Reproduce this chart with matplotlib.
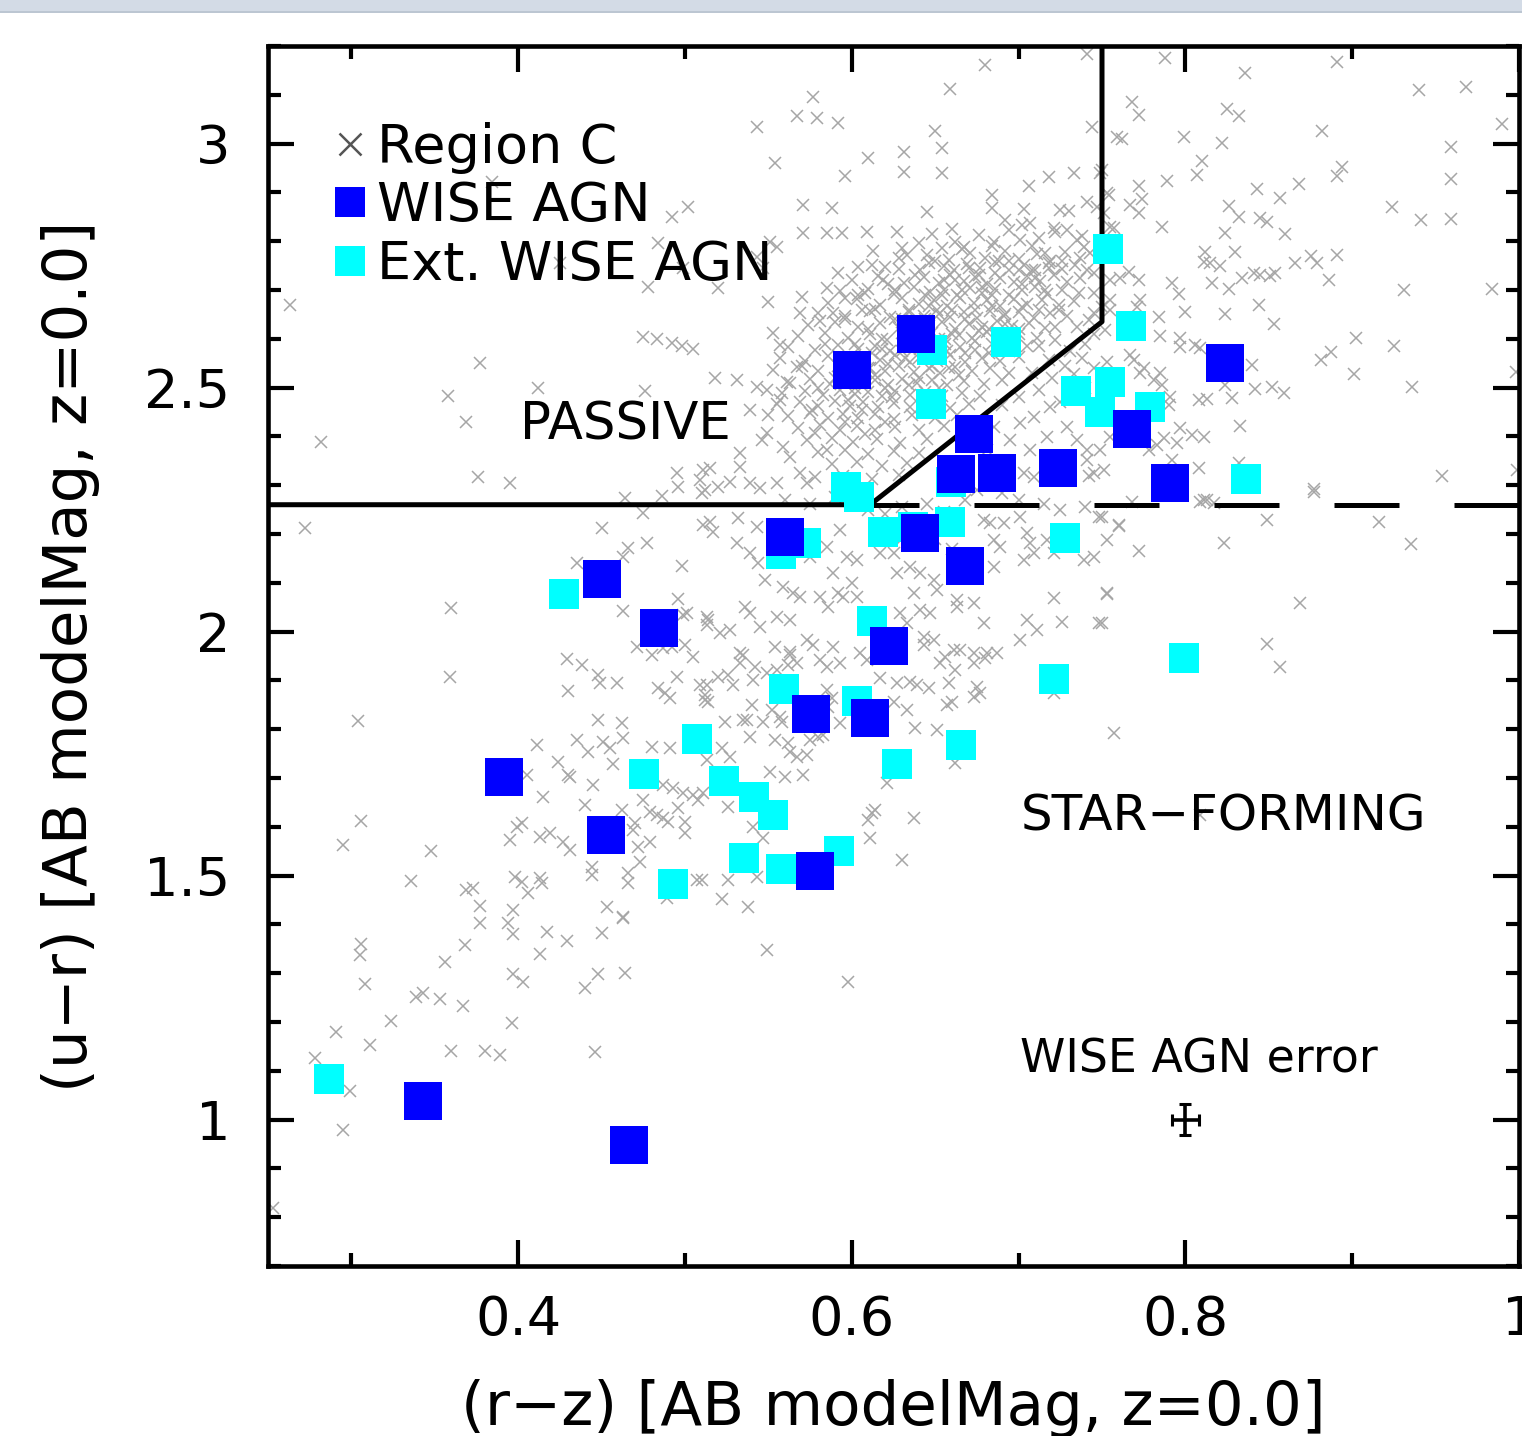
import numpy as np
import matplotlib
matplotlib.use("Agg")
import matplotlib.pyplot as plt
from matplotlib.lines import Line2D
from matplotlib.patches import Rectangle
from matplotlib.ticker import MultipleLocator, FuncFormatter

plt.rcParams['font.family'] = ['DejaVu Sans']

# ---------------- data ----------------
wise_agn_x = [0.6386, 0.6002, 0.8239, 0.6734, 0.7681, 0.6626, 0.6872, 0.7238, 0.7909, 0.5600, 0.6410,
              0.6680, 0.4503, 0.4845, 0.6224, 0.5756, 0.6110, 0.3915, 0.4527, 0.5780, 0.3430, 0.4665]
wise_agn_y = [2.610, 2.536, 2.550, 2.405, 2.415, 2.323, 2.325, 2.335, 2.305, 2.194, 2.202,
              2.134, 2.108, 2.007, 1.970, 1.831, 1.823, 1.702, 1.583, 1.509, 1.038, 0.948]

ext_agn_x = [0.7537, 0.7675, 0.6926, 0.6482, 0.7346, 0.7549, 0.7490, 0.7789, 0.6476, 0.8365, 0.5966,
             0.6044, 0.6596, 0.6188, 0.6368, 0.6590, 0.7280, 0.5726, 0.5576, 0.4275, 0.6122, 0.5594,
             0.6032, 0.7214, 0.7993, 0.5073, 0.6656, 0.4755, 0.6272, 0.5235, 0.5415, 0.5528, 0.5355,
             0.5576, 0.5924, 0.4929, 0.2866]
ext_agn_y = [2.784, 2.626, 2.593, 2.577, 2.493, 2.511, 2.450, 2.460, 2.466, 2.313, 2.296,
             2.276, 2.307, 2.204, 2.214, 2.225, 2.192, 2.182, 2.159, 2.077, 2.022, 1.882,
             1.858, 1.903, 1.946, 1.780, 1.768, 1.708, 1.729, 1.694, 1.661, 1.624, 1.536,
             1.514, 1.550, 1.483, 1.083]

# Region C galaxies (grey crosses)
region_c_upper_left = [
    (0.263, 2.669), (0.384, 2.921), (0.492, 2.850), (0.502, 2.870), (0.484, 2.796), (0.425, 2.755),
    (0.499, 2.745), (0.478, 2.706), (0.377, 2.550), (0.412, 2.499), (0.476, 2.493), (0.358, 2.483),
    (0.369, 2.430), (0.282, 2.389), (0.376, 2.317), (0.395, 2.305), (0.475, 2.604), (0.483, 2.600),
    (0.492, 2.591), (0.498, 2.585), (0.505, 2.579), (0.464, 2.274), (0.486, 2.278), (0.495, 2.325),
    (0.496, 2.296), (0.509, 2.311), (0.511, 2.331), (0.510, 2.284)]

region_c_upper_mid = [
    (0.741, 3.184), (0.680, 3.161), (0.659, 3.112), (0.577, 3.096), (0.567, 3.057), (0.579, 3.052),
    (0.592, 3.042), (0.543, 3.033), (0.650, 3.026), (0.744, 3.034), (0.654, 2.991), (0.631, 2.983),
    (0.610, 2.970), (0.554, 2.960), (0.631, 2.942), (0.654, 2.940), (0.596, 2.934), (0.733, 2.940),
    (0.718, 2.932), (0.706, 2.914), (0.684, 2.895), (0.749, 2.940), (0.754, 2.895), (0.571, 2.874),
    (0.588, 2.868), (0.645, 2.860), (0.684, 2.868), (0.703, 2.866), (0.692, 2.843), (0.725, 2.864),
    (0.730, 2.862), (0.741, 2.880), (0.747, 2.870), (0.571, 2.817), (0.585, 2.817), (0.594, 2.817),
    (0.609, 2.819), (0.627, 2.819), (0.648, 2.815), (0.551, 2.798), (0.555, 2.788), (0.543, 2.768),
    (0.547, 2.745), (0.520, 2.704), (0.613, 2.780), (0.630, 2.786), (0.633, 2.772), (0.640, 2.796),
    (0.654, 2.786), (0.662, 2.798), (0.667, 2.788), (0.685, 2.798), (0.702, 2.833), (0.707, 2.837),
    (0.701, 2.802), (0.641, 2.741), (0.655, 2.749), (0.620, 2.747), (0.604, 2.747), (0.592, 2.735),
    (0.585, 2.704), (0.570, 2.686), (0.550, 2.676), (0.569, 2.653), (0.581, 2.637), (0.589, 2.653),
    (0.553, 2.612), (0.557, 2.587), (0.596, 2.684), (0.608, 2.694), (0.619, 2.720), (0.721, 2.827),
    (0.729, 2.823), (0.735, 2.802), (0.739, 2.788), (0.743, 2.776), (0.745, 2.735), (0.745, 2.694),
    (0.745, 2.653), (0.755, 2.720), (0.755, 2.680), (0.759, 3.014)]

region_c_blob = [
    (0.660, 2.826), (0.676, 2.812), (0.694, 2.822), (0.712, 2.806), (0.722, 2.818), (0.738, 2.810),
    (0.628, 2.766), (0.645, 2.772), (0.658, 2.762), (0.671, 2.776), (0.680, 2.766), (0.692, 2.780),
    (0.700, 2.764), (0.711, 2.774), (0.719, 2.760), (0.728, 2.777), (0.737, 2.765),
    (0.612, 2.752), (0.628, 2.744), (0.646, 2.756), (0.661, 2.741), (0.669, 2.753), (0.677, 2.745),
    (0.686, 2.757), (0.694, 2.742), (0.703, 2.751), (0.710, 2.740), (0.718, 2.755), (0.726, 2.744),
    (0.734, 2.752), (0.741, 2.742),
    (0.600, 2.720), (0.616, 2.728), (0.631, 2.715), (0.643, 2.726), (0.652, 2.714), (0.659, 2.731),
    (0.667, 2.719), (0.674, 2.727), (0.681, 2.713), (0.689, 2.725), (0.697, 2.716), (0.705, 2.729),
    (0.713, 2.718), (0.721, 2.730), (0.729, 2.716), (0.737, 2.724),
    (0.593, 2.697), (0.610, 2.703), (0.625, 2.692), (0.637, 2.706), (0.647, 2.695), (0.655, 2.701),
    (0.663, 2.690), (0.671, 2.705), (0.678, 2.694), (0.686, 2.702), (0.694, 2.690), (0.702, 2.699),
    (0.710, 2.706), (0.717, 2.692), (0.726, 2.701), (0.736, 2.694),
    (0.586, 2.674), (0.603, 2.681), (0.617, 2.670), (0.630, 2.683), (0.640, 2.672), (0.649, 2.680),
    (0.657, 2.668), (0.665, 2.684), (0.673, 2.673), (0.681, 2.679), (0.689, 2.668), (0.697, 2.682),
    (0.705, 2.671), (0.714, 2.680), (0.724, 2.670), (0.733, 2.678),
    (0.580, 2.652), (0.596, 2.646), (0.611, 2.657), (0.623, 2.644), (0.634, 2.655), (0.643, 2.647),
    (0.651, 2.659), (0.659, 2.645), (0.667, 2.654), (0.675, 2.642), (0.683, 2.656), (0.691, 2.646),
    (0.700, 2.654), (0.709, 2.643), (0.719, 2.652), (0.729, 2.646),
    (0.574, 2.628), (0.590, 2.635), (0.604, 2.624), (0.617, 2.633), (0.628, 2.622), (0.637, 2.636),
    (0.646, 2.626), (0.654, 2.634), (0.662, 2.621), (0.670, 2.631), (0.678, 2.624), (0.687, 2.636),
    (0.696, 2.627), (0.706, 2.633), (0.716, 2.622),
    (0.568, 2.606), (0.584, 2.612), (0.598, 2.601), (0.611, 2.609), (0.621, 2.598), (0.630, 2.612),
    (0.640, 2.603), (0.648, 2.611), (0.656, 2.599), (0.664, 2.608), (0.672, 2.602), (0.681, 2.613),
    (0.690, 2.600), (0.700, 2.609), (0.711, 2.601),
    (0.562, 2.583), (0.578, 2.577), (0.592, 2.588), (0.604, 2.579), (0.614, 2.586), (0.623, 2.575),
    (0.632, 2.589), (0.641, 2.580), (0.649, 2.587), (0.657, 2.574), (0.665, 2.584), (0.674, 2.578),
    (0.684, 2.589), (0.694, 2.576), (0.705, 2.585),
    (0.557, 2.561), (0.572, 2.555), (0.586, 2.565), (0.598, 2.553), (0.608, 2.563), (0.617, 2.556),
    (0.626, 2.566), (0.635, 2.552), (0.643, 2.562), (0.651, 2.555), (0.659, 2.566), (0.668, 2.553),
    (0.678, 2.561), (0.689, 2.555), (0.700, 2.563),
    (0.553, 2.536), (0.567, 2.542), (0.580, 2.533), (0.592, 2.544), (0.602, 2.531), (0.611, 2.540),
    (0.620, 2.534), (0.628, 2.545), (0.637, 2.532), (0.646, 2.541), (0.653, 2.530), (0.662, 2.543),
    (0.672, 2.534), (0.683, 2.540), (0.694, 2.530),
    (0.561, 2.512), (0.575, 2.518), (0.587, 2.508), (0.597, 2.519), (0.606, 2.510), (0.614, 2.516),
    (0.622, 2.506), (0.630, 2.517), (0.639, 2.509), (0.648, 2.515), (0.657, 2.505), (0.667, 2.514),
    (0.679, 2.507), (0.690, 2.515),
    (0.558, 2.488), (0.572, 2.494), (0.583, 2.484), (0.593, 2.495), (0.602, 2.486), (0.610, 2.492),
    (0.618, 2.482), (0.626, 2.493), (0.635, 2.485), (0.644, 2.491), (0.654, 2.483), (0.666, 2.489),
    (0.677, 2.482),
    (0.555, 2.466), (0.569, 2.471), (0.580, 2.462), (0.590, 2.472), (0.599, 2.463), (0.607, 2.470),
    (0.616, 2.461), (0.625, 2.469), (0.635, 2.460), (0.647, 2.468), (0.659, 2.459), (0.670, 2.467),
    (0.562, 2.441), (0.575, 2.447), (0.586, 2.437), (0.595, 2.446), (0.604, 2.438), (0.614, 2.445),
    (0.625, 2.436), (0.636, 2.443), (0.650, 2.438), (0.663, 2.444),
    (0.568, 2.418), (0.581, 2.423), (0.593, 2.414), (0.603, 2.422), (0.614, 2.413), (0.626, 2.420),
    (0.640, 2.414), (0.655, 2.421),
    (0.573, 2.392), (0.588, 2.397), (0.601, 2.388), (0.615, 2.395), (0.629, 2.387), (0.645, 2.394),
    (0.580, 2.368), (0.596, 2.373), (0.610, 2.364), (0.625, 2.371), (0.640, 2.366),
    (0.588, 2.343), (0.603, 2.348), (0.618, 2.339), (0.633, 2.346),
    (0.595, 2.318), (0.612, 2.312), (0.628, 2.321),
    (0.626, 2.700), (0.634, 2.660), (0.642, 2.620), (0.650, 2.580), (0.658, 2.540), (0.666, 2.700),
    (0.674, 2.660), (0.682, 2.620), (0.690, 2.580), (0.644, 2.690), (0.652, 2.650), (0.660, 2.610),
    (0.668, 2.570), (0.676, 2.730), (0.684, 2.690), (0.692, 2.650), (0.700, 2.620), (0.708, 2.740),
    (0.716, 2.700), (0.724, 2.660), (0.632, 2.560), (0.640, 2.520), (0.618, 2.580), (0.610, 2.540),
    (0.602, 2.500), (0.620, 2.500), (0.636, 2.600), (0.655, 2.720), (0.688, 2.760), (0.700, 2.740),
    (0.712, 2.585), (0.722, 2.598), (0.731, 2.574), (0.740, 2.590), (0.718, 2.556), (0.728, 2.545),
    (0.738, 2.560), (0.708, 2.530), (0.720, 2.520), (0.733, 2.528), (0.745, 2.610), (0.712, 2.495),
    (0.700, 2.480), (0.690, 2.465), (0.725, 2.470), (0.740, 2.500), (0.745, 2.540), (0.735, 2.625),
    (0.742, 2.638), (0.722, 2.625)]

region_c_core_extra = [
    (0.604, 2.690), (0.614, 2.662), (0.622, 2.712), (0.630, 2.640), (0.638, 2.730), (0.646, 2.668),
    (0.654, 2.690), (0.662, 2.720), (0.670, 2.745), (0.678, 2.706), (0.686, 2.735), (0.694, 2.760),
    (0.702, 2.712), (0.710, 2.725), (0.718, 2.745), (0.726, 2.760), (0.610, 2.620), (0.618, 2.600),
    (0.626, 2.640), (0.634, 2.620), (0.644, 2.640), (0.652, 2.600), (0.660, 2.660), (0.668, 2.640),
    (0.676, 2.615), (0.684, 2.668), (0.692, 2.630), (0.702, 2.665), (0.712, 2.660), (0.594, 2.560),
    (0.602, 2.590), (0.612, 2.570), (0.622, 2.548), (0.630, 2.575), (0.640, 2.560), (0.648, 2.545),
    (0.656, 2.590), (0.664, 2.525), (0.674, 2.595), (0.682, 2.570), (0.590, 2.520), (0.598, 2.475),
    (0.606, 2.455), (0.614, 2.525), (0.624, 2.480), (0.634, 2.505), (0.644, 2.475), (0.652, 2.500),
    (0.580, 2.500), (0.576, 2.455), (0.596, 2.430), (0.608, 2.405), (0.620, 2.430), (0.570, 2.545),
    (0.584, 2.590), (0.596, 2.640), (0.606, 2.660), (0.650, 2.760), (0.666, 2.785), (0.684, 2.790),
    (0.708, 2.790), (0.716, 2.775)]

region_c_mid = [
    (0.518, 2.520), (0.531, 2.516), (0.543, 2.501), (0.549, 2.495), (0.539, 2.454), (0.550, 2.444),
    (0.557, 2.475), (0.563, 2.509), (0.515, 2.335), (0.512, 2.290), (0.520, 2.296), (0.527, 2.307),
    (0.533, 2.337), (0.539, 2.305), (0.545, 2.294), (0.555, 2.305), (0.569, 2.325), (0.573, 2.305),
    (0.578, 2.317), (0.546, 2.393), (0.559, 2.378), (0.563, 2.358), (0.533, 2.366), (0.549, 2.407),
    (0.578, 2.407), (0.585, 2.372), (0.515, 2.225), (0.517, 2.204), (0.532, 2.233), (0.531, 2.182),
    (0.543, 2.214), (0.544, 2.141), (0.539, 2.161), (0.548, 2.106), (0.559, 2.092), (0.565, 2.079),
    (0.575, 2.153), (0.585, 2.173), (0.593, 2.208), (0.597, 2.153), (0.603, 2.147), (0.589, 2.120),
    (0.600, 2.100), (0.592, 2.079), (0.595, 2.071), (0.581, 2.071), (0.586, 2.050), (0.569, 2.071),
    (0.514, 2.024), (0.521, 1.997), (0.527, 2.003), (0.536, 2.050), (0.539, 2.038), (0.545, 2.009),
    (0.555, 2.030), (0.563, 2.024), (0.554, 1.968), (0.563, 1.958), (0.573, 1.983), (0.577, 1.973),
    (0.533, 1.956), (0.603, 2.071), (0.617, 2.161), (0.625, 2.161), (0.627, 2.120), (0.635, 2.133),
    (0.641, 2.120), (0.637, 2.079), (0.649, 2.106), (0.651, 2.085), (0.629, 2.038), (0.633, 2.018),
    (0.641, 2.044), (0.647, 2.038), (0.663, 2.065), (0.663, 2.050), (0.673, 2.059), (0.679, 2.018),
    (0.643, 1.989), (0.679, 2.229), (0.683, 2.223), (0.691, 2.223), (0.701, 2.235), (0.685, 2.188),
    (0.689, 2.173), (0.705, 2.202), (0.707, 2.182), (0.717, 2.188), (0.703, 2.147), (0.709, 2.161),
    (0.721, 2.161), (0.685, 2.133), (0.739, 2.147), (0.745, 2.153), (0.725, 2.249), (0.753, 2.188),
    (0.753, 2.079), (0.721, 2.069), (0.726, 2.020), (0.748, 2.018), (0.705, 2.024), (0.711, 2.003),
    (0.701, 1.983), (0.687, 1.956), (0.649, 1.983), (0.661, 1.962), (0.673, 1.956),
    (0.695, 2.393), (0.701, 2.428), (0.709, 2.440), (0.719, 2.460), (0.729, 2.419), (0.735, 2.393),
    (0.741, 2.372), (0.745, 2.325), (0.707, 2.372), (0.717, 2.399), (0.751, 2.331), (0.685, 2.419),
    (0.681, 2.372), (0.693, 2.337), (0.703, 2.325), (0.709, 2.317), (0.741, 2.352), (0.749, 2.372),
    (0.560, 2.270), (0.575, 2.262), (0.590, 2.275), (0.610, 2.250), (0.620, 2.240), (0.630, 2.255),
    (0.645, 2.262), (0.655, 2.245), (0.668, 2.270), (0.675, 2.290), (0.690, 2.285), (0.700, 2.270),
    (0.715, 2.262), (0.740, 2.255), (0.650, 2.190), (0.630, 2.190), (0.660, 2.170), (0.675, 2.160),
    (0.748, 2.235), (0.760, 2.218), (0.742, 2.318)]

region_c_right = [
    (0.788, 3.175), (0.891, 3.167), (0.836, 3.145), (0.940, 3.110), (0.968, 3.116), (0.768, 3.085),
    (0.772, 3.059), (0.825, 3.071), (0.832, 3.057), (0.990, 3.040), (0.762, 3.010), (0.799, 3.014),
    (0.822, 3.002), (0.882, 3.026), (0.959, 2.993), (0.810, 2.964), (0.807, 2.936), (0.894, 2.952),
    (0.891, 2.934), (0.959, 2.927), (0.772, 2.913), (0.789, 2.923), (0.767, 2.874), (0.774, 2.886),
    (0.772, 2.858), (0.843, 2.907), (0.868, 2.917), (0.857, 2.889), (0.826, 2.872), (0.832, 2.850),
    (0.845, 2.848), (0.849, 2.839), (0.924, 2.870), (0.941, 2.843), (0.959, 2.845), (0.757, 2.827),
    (0.786, 2.829), (0.824, 2.817), (0.860, 2.815), (0.812, 2.778), (0.811, 2.757), (0.815, 2.755),
    (0.821, 2.749), (0.830, 2.778), (0.866, 2.755), (0.875, 2.770), (0.879, 2.755), (0.891, 2.772),
    (0.761, 2.725), (0.766, 2.737), (0.772, 2.720), (0.792, 2.714), (0.796, 2.692), (0.816, 2.714),
    (0.826, 2.702), (0.834, 2.725), (0.841, 2.735), (0.845, 2.731), (0.851, 2.729), (0.854, 2.735),
    (0.886, 2.720), (0.931, 2.700), (0.984, 2.702), (0.773, 2.680), (0.771, 2.665), (0.800, 2.655),
    (0.824, 2.651), (0.844, 2.669), (0.853, 2.630), (0.784, 2.645), (0.785, 2.606), (0.797, 2.602),
    (0.797, 2.583), (0.806, 2.587), (0.809, 2.581), (0.902, 2.602), (0.925, 2.585), (0.887, 2.573),
    (0.881, 2.557), (0.901, 2.528), (0.936, 2.501), (0.998, 2.532), (0.769, 2.557), (0.767, 2.567),
    (0.773, 2.530), (0.781, 2.516), (0.785, 2.530), (0.840, 2.546), (0.842, 2.497), (0.852, 2.501),
    (0.859, 2.489), (0.824, 2.505), (0.808, 2.475), (0.813, 2.477), (0.828, 2.479), (0.791, 2.481),
    (0.790, 2.464), (0.833, 2.421), (0.797, 2.417), (0.804, 2.403), (0.811, 2.399), (0.787, 2.397),
    (0.783, 2.382), (0.778, 2.372), (0.795, 2.386), (0.755, 2.399), (0.808, 2.335), (0.832, 2.345),
    (0.877, 2.292), (0.954, 2.319), (0.999, 2.331), (0.768, 2.266), (0.811, 2.270), (0.792, 2.352),
    (0.750, 2.946), (0.753, 2.899), (0.751, 2.858), (0.755, 2.829), (0.750, 2.665), (0.755, 2.659),
    (0.752, 2.618), (0.753, 2.552), (0.775, 2.540), (0.786, 2.505),
    (0.809, 2.266), (0.813, 2.270), (0.817, 2.264), (0.877, 2.286), (0.750, 2.235), (0.760, 2.216),
    (0.772, 2.165), (0.849, 2.229), (0.916, 2.225), (0.823, 2.182), (0.935, 2.180), (0.753, 2.077),
    (0.869, 2.059), (0.750, 2.018), (0.849, 1.975), (0.857, 1.928), (0.757, 1.792), (0.809, 1.624)]

region_c_lower_left = [
    (0.272, 2.212), (0.360, 2.048), (0.359, 1.907), (0.304, 1.817), (0.306, 1.612), (0.295, 1.563),
    (0.348, 1.550), (0.336, 1.489), (0.450, 2.212), (0.475, 2.243), (0.477, 2.182), (0.466, 2.171),
    (0.463, 2.153), (0.435, 2.141), (0.498, 2.135), (0.511, 2.218), (0.496, 2.067), (0.463, 2.042),
    (0.499, 2.034), (0.501, 2.038), (0.513, 2.030), (0.513, 2.014), (0.471, 1.968), (0.480, 1.952),
    (0.487, 1.966), (0.492, 1.968), (0.500, 1.973), (0.505, 1.948), (0.429, 1.944), (0.438, 1.932),
    (0.448, 1.911), (0.449, 1.895), (0.459, 1.895), (0.430, 1.878), (0.484, 1.884), (0.488, 1.874),
    (0.491, 1.864), (0.495, 1.907), (0.509, 1.890), (0.512, 1.860), (0.448, 1.819), (0.462, 1.813),
    (0.411, 1.768), (0.435, 1.778), (0.442, 1.753), (0.451, 1.774), (0.455, 1.761), (0.463, 1.782),
    (0.480, 1.764), (0.491, 1.761), (0.424, 1.733), (0.430, 1.706), (0.431, 1.702), (0.405, 1.706),
    (0.445, 1.686), (0.457, 1.729), (0.415, 1.661), (0.487, 1.686), (0.493, 1.680), (0.499, 1.669),
    (0.505, 1.665), (0.508, 1.655), (0.440, 1.645), (0.475, 1.655), (0.479, 1.630), (0.483, 1.624),
    (0.487, 1.618), (0.490, 1.610), (0.496, 1.639), (0.500, 1.610), (0.500, 1.587), (0.462, 1.634),
    (0.470, 1.608), (0.469, 1.593), (0.472, 1.559), (0.479, 1.569), (0.473, 1.528), (0.402, 1.608),
    (0.399, 1.600), (0.395, 1.573), (0.413, 1.579), (0.419, 1.587), (0.427, 1.569), (0.431, 1.553),
    (0.444, 1.518), (0.444, 1.501), (0.466, 1.505), (0.466, 1.485), (0.398, 1.497), (0.402, 1.487),
    (0.406, 1.464), (0.413, 1.495), (0.414, 1.485), (0.369, 1.470), (0.373, 1.475), (0.377, 1.438),
    (0.397, 1.430), (0.453, 1.436), (0.463, 1.415), (0.507, 1.491), (0.489, 1.454),
    (0.377, 1.403), (0.394, 1.403), (0.397, 1.380), (0.417, 1.384), (0.429, 1.366), (0.450, 1.382),
    (0.463, 1.413), (0.306, 1.360), (0.305, 1.337), (0.368, 1.358), (0.356, 1.323), (0.413, 1.339),
    (0.308, 1.278), (0.397, 1.298), (0.403, 1.282), (0.448, 1.298), (0.464, 1.300), (0.440, 1.270),
    (0.339, 1.251), (0.343, 1.259), (0.353, 1.247), (0.367, 1.233), (0.324, 1.202), (0.396, 1.198),
    (0.291, 1.180), (0.311, 1.153), (0.360, 1.141), (0.380, 1.141), (0.389, 1.132), (0.446, 1.139),
    (0.278, 1.126), (0.299, 1.059), (0.295, 0.978), (0.253, 0.819)]

region_c_lower_mid = [
    (0.589, 1.968), (0.605, 1.956), (0.609, 1.942), (0.535, 1.952), (0.533, 1.936), (0.542, 1.928),
    (0.563, 1.952), (0.562, 1.932), (0.567, 1.936), (0.581, 1.942), (0.585, 1.928), (0.593, 1.936),
    (0.520, 1.907), (0.526, 1.911), (0.529, 1.891), (0.513, 1.891), (0.541, 1.901), (0.549, 1.915),
    (0.555, 1.921), (0.514, 1.856), (0.512, 1.870), (0.540, 1.850), (0.537, 1.819), (0.552, 1.839),
    (0.557, 1.825), (0.558, 1.815), (0.524, 1.815), (0.535, 1.819), (0.547, 1.815), (0.539, 1.784),
    (0.554, 1.778), (0.562, 1.772), (0.575, 1.778), (0.580, 1.784), (0.522, 1.762), (0.563, 1.753),
    (0.567, 1.743), (0.573, 1.747), (0.585, 1.880), (0.588, 1.864), (0.586, 1.846), (0.593, 1.813),
    (0.583, 1.788), (0.617, 1.905), (0.627, 1.895), (0.635, 1.897), (0.639, 1.891), (0.646, 1.884),
    (0.625, 1.856), (0.633, 1.839), (0.638, 1.803), (0.651, 1.798), (0.656, 1.948), (0.653, 1.936),
    (0.662, 1.921), (0.665, 1.962), (0.658, 1.895), (0.657, 1.850), (0.660, 1.856), (0.673, 1.936),
    (0.681, 1.956), (0.680, 1.946), (0.675, 1.886), (0.677, 1.874), (0.673, 1.866), (0.643, 1.973),
    (0.721, 1.874), (0.662, 1.731), (0.621, 1.690), (0.614, 1.634), (0.610, 1.614), (0.612, 1.628),
    (0.637, 1.618), (0.611, 1.577), (0.630, 1.532), (0.526, 1.641), (0.541, 1.600), (0.547, 1.577),
    (0.526, 1.491), (0.543, 1.497), (0.510, 1.491), (0.522, 1.452), (0.538, 1.436), (0.549, 1.348),
    (0.598, 1.282), (0.511, 1.669), (0.527, 1.743), (0.513, 1.737), (0.551, 1.712), (0.560, 1.702),
    (0.571, 1.706)]

# Classification boundaries
passive_x = [0.25, 0.611, 0.75, 0.75]
passive_y = [2.26, 2.26, 2.635, 3.2]
sf_dash_x = [1.0, 0.611]
sf_dash_y = [2.26, 2.26]

err_x, err_y, err_dx, err_dy = [0.8], [1.0], [0.008], [0.031]

x_ticks = [0.4, 0.6, 0.8, 1.0]
y_ticks = [1.0, 1.5, 2.0, 2.5, 3.0]

# ---------------- figure ----------------
W, H = 1522, 1436
fig = plt.figure(figsize=(W / 100, H / 100), dpi=100)
ax = fig.add_axes([268 / W, 1 - 1266 / H, (1519 - 268) / W, (1266 - 46) / H])

# screenshot strip along the top
fig.add_artist(Rectangle((0, 1 - 11 / H), 1, 11 / H, transform=fig.transFigure,
                         facecolor='#d3dbe6', edgecolor='none'))
fig.add_artist(Rectangle((0, 1 - 13 / H), 1, 2 / H, transform=fig.transFigure,
                         facecolor='#bcc6d2', edgecolor='none'))

region_c = (region_c_upper_left + region_c_upper_mid + region_c_blob + region_c_core_extra
            + region_c_mid + region_c_right + region_c_lower_left + region_c_lower_mid)
rc_x = [p[0] for p in region_c]
rc_y = [p[1] for p in region_c]

ax.plot(rc_x, rc_y, ls='none', marker='x', ms=8.8, mew=1.1, color='#a6a6a6', zorder=2)

ax.plot(passive_x, passive_y, color='black', lw=3.6, solid_capstyle='butt', zorder=3)
ax.plot(sf_dash_x, sf_dash_y, color='black', lw=3.6, linestyle=(0, (13.0, 11.0)),
        dash_capstyle='butt', zorder=3)

ax.plot(ext_agn_x, ext_agn_y, ls='none', marker='s', ms=22.3, mew=0, color='#00ffff', zorder=4)
ax.plot(wise_agn_x, wise_agn_y, ls='none', marker='s', ms=27.4, mew=0, color='#0000ff', zorder=5)

ax.errorbar(err_x, err_y, xerr=err_dx, yerr=err_dy, fmt='none', ecolor='black',
            elinewidth=2.6, capsize=4, capthick=2.2, zorder=6)

ax.text(0.401, 2.393, 'PASSIVE', fontsize=37, va='baseline', ha='left')
ax.text(0.701, 1.593, 'STAR\u2212FORMING', fontsize=36, va='baseline', ha='left')
ax.text(0.701, 1.096, 'WISE AGN error', fontsize=33, va='baseline', ha='left')

handles = [Line2D([], [], ls='none', marker='x', ms=16.5, mew=1.8, color='#555555'),
           Line2D([], [], ls='none', marker='s', ms=21.6, mew=0, color='#0000ff'),
           Line2D([], [], ls='none', marker='s', ms=21.6, mew=0, color='#00ffff')]
ax.legend(handles, ['Region C', 'WISE AGN', 'Ext. WISE AGN'], loc='upper left',
          bbox_to_anchor=(0.049, 0.938), frameon=False, fontsize=39,
          handlelength=0.76, handletextpad=0.12, labelspacing=0.12,
          borderpad=0, borderaxespad=0)

ax.set_xlim(0.25, 1.0)
ax.set_ylim(0.7, 3.2)
ax.set_xticks(x_ticks)
ax.set_yticks(y_ticks)
ax.xaxis.set_minor_locator(MultipleLocator(0.1))
ax.yaxis.set_minor_locator(MultipleLocator(0.1))
fmt = FuncFormatter(lambda v, p: '%g' % v)
ax.xaxis.set_major_formatter(fmt)
ax.yaxis.set_major_formatter(fmt)

ax.tick_params(which='both', direction='in', top=True, right=True, width=3.0, labelsize=39)
ax.tick_params(which='major', length=19)
ax.tick_params(which='minor', length=9.5)
ax.tick_params(axis='x', pad=20)
ax.tick_params(axis='y', pad=27)
for s in ax.spines.values():
    s.set_linewidth(3.3)

ax.set_xlabel('(r\u2212z) [AB modelMag, z=0.0]', fontsize=44, labelpad=24)
ax.set_ylabel('(u\u2212r) [AB modelMag, z=0.0]', fontsize=44, labelpad=32)

fig.savefig('out.png', dpi=100)
